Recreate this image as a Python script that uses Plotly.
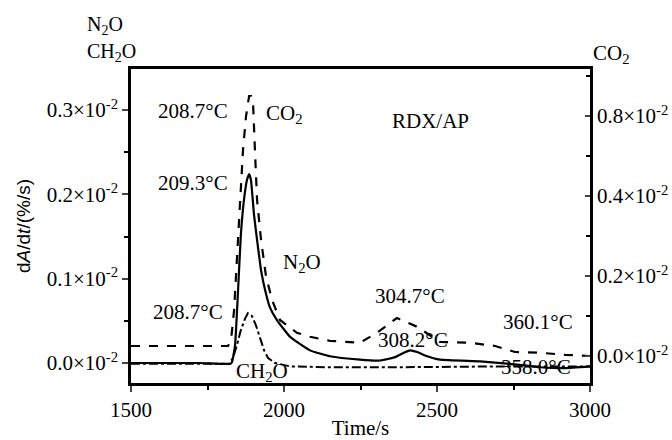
import plotly.graph_objects as go

# Time axis (s) and rate curves, rates in units of 1e-2 %/s
time_n2o = [1500, 1725, 1824, 1830, 1840, 1850, 1859, 1869, 1879, 1886, 1892, 1902, 1912,
            1925, 1938, 1954, 1977, 2020, 2085, 2150, 2248, 2314, 2363, 2390, 2412, 2435,
            2461, 2510, 2641, 2739, 2837, 2918, 3000]
n2o = [0.000, 0.000, -0.001, 0.001, 0.021, 0.087, 0.152, 0.193, 0.217, 0.224, 0.217, 0.176,
       0.146, 0.110, 0.087, 0.066, 0.051, 0.031, 0.015, 0.008, 0.004, 0.003, 0.007, 0.012,
       0.015, 0.013, 0.009, 0.004, 0.002, -0.001, -0.005, -0.006, -0.004]

time_co2 = [1500, 1817, 1827, 1837, 1846, 1856, 1866, 1876, 1886, 1892, 1899, 1905, 1912,
            1925, 1941, 1961, 1987, 2042, 2085, 2150, 2248, 2304, 2369, 2435, 2510, 2608,
            2690, 2755, 2837, 2918, 3000]
co2 = [0.025, 0.025, 0.040, 0.115, 0.240, 0.365, 0.515, 0.600, 0.650, 0.650, 0.630, 0.515,
       0.390, 0.290, 0.200, 0.140, 0.090, 0.058, 0.048, 0.038, 0.033, 0.058, 0.095, 0.073,
       0.035, 0.033, 0.025, 0.010, 0.008, 0.003, 0.000]

time_ch2o = [1500, 1820, 1833, 1846, 1859, 1873, 1882, 1895, 1908, 1922, 1935, 1948, 1971,
             2020, 2150, 2379, 2706, 3000]
ch2o = [-0.001, -0.001, 0.006, 0.021, 0.039, 0.053, 0.059, 0.056, 0.045, 0.030, 0.015,
        0.006, 0.000, -0.004, -0.005, -0.005, -0.004, -0.004]

x_ticks = [1500, 2000, 2500, 3000]
left_tickvals = [0.0, 0.1, 0.2, 0.3]
left_ticktext = ["0.0×10<sup>-2</sup>", "0.1×10<sup>-2</sup>", "0.2×10<sup>-2</sup>", "0.3×10<sup>-2</sup>"]
right_tickvals = [0.0, 0.2, 0.4, 0.6]
right_ticktext = ["0.0×10<sup>-2</sup>", "0.2×10<sup>-2</sup>", "0.4×10<sup>-2</sup>", "0.8×10<sup>-2</sup>"]

# Peak labels: (text, time, left-axis value)
peak_labels = [
    ("208.7°C", 1703, 0.299),
    ("CO<sub>2</sub>", 2000, 0.296),
    ("RDX/AP", 2480, 0.287),
    ("209.3°C", 1703, 0.2135),
    ("N<sub>2</sub>O", 2059, 0.119),
    ("208.7°C", 1686, 0.0605),
    ("CH<sub>2</sub>O", 1928, -0.011),
    ("304.7°C", 2412, 0.0795),
    ("308.2°C", 2422, 0.0273),
    ("360.1°C", 2830, 0.0486),
    ("358.0°C", 2824, -0.0047),
]

SERIF = "Liberation Serif, Times New Roman, serif"
FS = 21

fig = go.Figure()
fig.add_trace(go.Scatter(x=time_n2o, y=n2o, mode="lines", name="N2O",
                         line=dict(color="black", width=2.2, shape="spline", smoothing=0.4)))
fig.add_trace(go.Scatter(x=time_ch2o, y=ch2o, mode="lines", name="CH2O",
                         line=dict(color="black", width=2, dash="dashdot")))
fig.add_trace(go.Scatter(x=time_co2, y=co2, mode="lines", name="CO2", yaxis="y2",
                         line=dict(color="black", width=2.2, dash="dash")))

annotations = []
for text, t, v in peak_labels:
    annotations.append(dict(text=text, x=t, y=v, xref="x", yref="y", showarrow=False,
                            xanchor="center", yanchor="middle",
                            font=dict(family=SERIF, size=FS, color="black")))

# Axis captions for the left (N2O, CH2O) and right (CO2) scales
annotations += [
    dict(text="N<sub>2</sub>O", x=-0.100, y=1.137, xref="paper", yref="paper",
         xanchor="left", yanchor="middle", showarrow=False,
         font=dict(family=SERIF, size=20, color="black")),
    dict(text="CH<sub>2</sub>O", x=-0.100, y=1.054, xref="paper", yref="paper",
         xanchor="left", yanchor="middle", showarrow=False,
         font=dict(family=SERIF, size=20, color="black")),
    dict(text="CO<sub>2</sub>", x=1.046, y=1.048, xref="paper", yref="paper",
         xanchor="center", yanchor="middle", showarrow=False,
         font=dict(family=SERIF, size=FS, color="black")),
]

fig.update_layout(
    width=672, height=440,
    margin=dict(l=131, r=82, t=69, b=57),
    paper_bgcolor="white", plot_bgcolor="white",
    showlegend=False,
    font=dict(family=SERIF, size=FS, color="black"),
    annotations=annotations,
    xaxis=dict(
        range=[1500, 3000], tickvals=x_ticks, ticks="outside", ticklen=6, tickwidth=2,
        showline=True, linewidth=2.5, linecolor="black", mirror=True,
        showgrid=False, zeroline=False, automargin=False,
        minor=dict(dtick=250, tick0=1500, ticks="outside", ticklen=4, tickwidth=1.5,
                   tickcolor="black", showgrid=False),
        title=dict(text="Time/s", standoff=8, font=dict(family=SERIF, size=FS)),
        tickfont=dict(family=SERIF, size=FS),
    ),
    yaxis=dict(
        range=[-0.0237, 0.3488], tickvals=left_tickvals, ticktext=left_ticktext,
        ticks="outside", ticklen=6, tickwidth=2,
        showline=True, linewidth=2.5, linecolor="black",
        showgrid=False, zeroline=False, automargin=False,
        minor=dict(dtick=0.05, tick0=0, ticks="outside", ticklen=4, tickwidth=1.5,
                   tickcolor="black", showgrid=False),
        title=dict(text="d<i>A</i>/d<i>t</i>/(%/s)", standoff=12,
                   font=dict(family="Liberation Sans, Arial, sans-serif", size=19)),
        tickfont=dict(family=SERIF, size=FS),
    ),
    yaxis2=dict(
        range=[-0.0675, 0.7175], overlaying="y", side="right",
        tickvals=right_tickvals, ticktext=right_ticktext,
        ticks="inside", ticklen=5, tickwidth=2,
        showline=True, linewidth=2.5, linecolor="black",
        showgrid=False, zeroline=False, automargin=False,
        minor=dict(dtick=0.1, tick0=0, ticks="inside", ticklen=4, tickwidth=1.5,
                   tickcolor="black", showgrid=False),
        tickfont=dict(family=SERIF, size=FS),
    ),
)

fig.write_html("out.html")
